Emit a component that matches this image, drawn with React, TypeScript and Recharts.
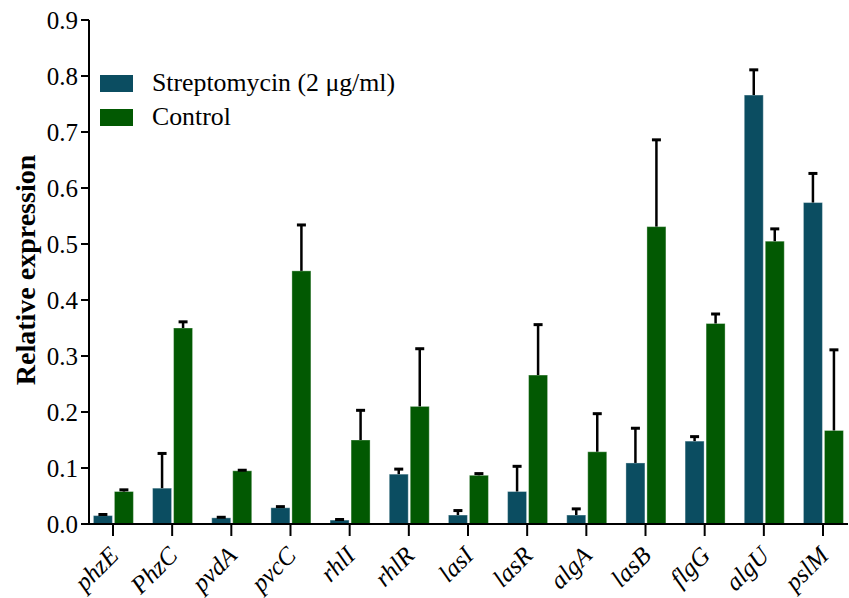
import { Bar, BarChart, Label, XAxis, YAxis } from "recharts";

const GENES = ["phzE", "PhzC", "pvdA", "pvcC", "rhlI", "rhlR", "lasI", "lasR", "algA", "lasB", "flgG", "algU", "pslM"];
const STREP = [0.015, 0.064, 0.011, 0.029, 0.007, 0.089, 0.016, 0.058, 0.016, 0.109, 0.148, 0.766, 0.574];
const STREP_ERR = [0.002, 0.062, 0.001, 0.002, 0.001, 0.009, 0.008, 0.045, 0.011, 0.062, 0.008, 0.045, 0.052];
const CONTROL = [0.058, 0.35, 0.095, 0.452, 0.15, 0.21, 0.087, 0.266, 0.129, 0.531, 0.358, 0.505, 0.167];
const CONTROL_ERR = [0.003, 0.011, 0.001, 0.082, 0.053, 0.103, 0.003, 0.09, 0.068, 0.155, 0.017, 0.022, 0.144];
const Y_TICKS = [0, 0.1, 0.2, 0.3, 0.4, 0.5, 0.6, 0.7, 0.8, 0.9];

const SERIES = [
  { key: "strep", errKey: "strepErr", label: "Streptomycin (2 μg/ml)", color: "#0b4d61" },
  { key: "control", errKey: "controlErr", label: "Control", color: "#025902" },
];

const FONT = "Liberation Serif, Times New Roman, serif";

const data = GENES.map((gene, i) => ({
  gene,
  strep: STREP[i],
  strepErr: STREP_ERR[i],
  control: CONTROL[i],
  controlErr: CONTROL_ERR[i],
}));

// bar with a one-sided (upward) error whisker, scaled off the bar's own pixel height
function barWithError(valueKey: string, errKey: string, color: string) {
  return (props: any) => {
    const { x, y, width, height, payload } = props;
    const v = payload[valueKey];
    const err = payload[errKey];
    const pxPerUnit = v > 0 ? height / v : 0;
    const top = y - err * pxPerUnit;
    const cx = x + width / 2;
    return (
      <g>
        <rect x={x} y={y} width={width} height={height} fill={color} stroke="rgba(255,255,255,0.35)" strokeWidth={1} />
        <line x1={cx} x2={cx} y1={y} y2={top} stroke="#000" strokeWidth={2.5} />
        <line x1={cx - 4.5} x2={cx + 4.5} y1={top} y2={top} stroke="#000" strokeWidth={3} />
      </g>
    );
  };
}

function GeneTick({ x, y, payload }: any) {
  const ax = x + 7;
  const ay = y + 19;
  return (
    <text
      x={ax}
      y={ay}
      transform={`rotate(-45, ${ax}, ${ay})`}
      textAnchor="end"
      fontFamily={FONT}
      fontStyle="italic"
      fontSize={25}
      fill="#000"
    >
      {payload.value}
    </text>
  );
}

export default function App() {
  return (
    <div style={{ position: "absolute", left: 0, top: 0, width: 849, height: 598, background: "#fff" }}>
      <BarChart
        width={849}
        height={598}
        data={data}
        margin={{ top: 20, right: 1, bottom: 0, left: 0 }}
        barSize={19}
        barGap={2}
      >
        <XAxis
          dataKey="gene"
          height={74}
          padding={{ left: -5.6, right: -4.6 }}
          axisLine={{ stroke: "#000", strokeWidth: 2 }}
          tickLine={{ stroke: "#000", strokeWidth: 2 }}
          tickSize={12}
          tick={<GeneTick />}
          interval={0}
        />
        <YAxis
          width={89}
          domain={[0, 0.9]}
          ticks={Y_TICKS}
          tickFormatter={(v: number) => v.toFixed(1)}
          axisLine={{ stroke: "#000", strokeWidth: 2 }}
          tickLine={{ stroke: "#000", strokeWidth: 2 }}
          tickSize={8}
          tickMargin={3}
          tick={{ fill: "#000", fontFamily: FONT, fontSize: 25 }}
          allowDataOverflow
        >
          <Label
            content={({ viewBox }: any) => {
              const cx = 25;
              const cy = viewBox.y + viewBox.height / 2 - 2;
              return (
                <text
                  x={cx}
                  y={cy}
                  transform={`rotate(-90, ${cx}, ${cy})`}
                  textAnchor="middle"
                  dominantBaseline="central"
                  fontFamily={FONT}
                  fontWeight="bold"
                  fontSize={28}
                  fill="#000"
                >
                  Relative expression
                </text>
              );
            }}
          />
        </YAxis>
        {SERIES.map((s) => (
          <Bar
            key={s.key}
            dataKey={s.key}
            name={s.label}
            fill={s.color}
            shape={barWithError(s.key, s.errKey, s.color)}
            isAnimationActive={false}
          />
        ))}
      </BarChart>
      <div style={{ position: "absolute", left: 100, top: 66, fontFamily: FONT, fontSize: 25.8, color: "#000" }}>
        {SERIES.map((s) => (
          <div key={s.key} style={{ display: "flex", alignItems: "center", height: 34 }}>
            <span style={{ width: 33, height: 17, background: s.color, marginRight: 19, display: "inline-block" }} />
            <span>{s.label}</span>
          </div>
        ))}
      </div>
    </div>
  );
}
